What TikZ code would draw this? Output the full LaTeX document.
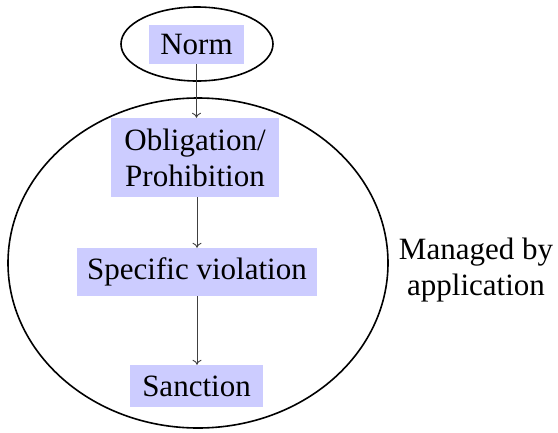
\documentclass[tikz,border=0pt]{standalone}
\usepackage{fontspec}
\setmainfont{Liberation Serif}
\usetikzlibrary{arrows.meta}
\begin{document}
\begin{tikzpicture}[x=1pt,y=-1pt,
  box/.style={fill=blue!20, inner sep=0pt, align=center, font=\fontsize{31}{36}\selectfont},
  conn/.style={draw=black!75, line width=0.9pt, -{To[length=5pt,width=9pt]}},
  ring/.style={draw=black, line width=1.6pt}]
\useasboundingbox (0,0) rectangle (558,432);
\draw[ring] (197,44) ellipse [x radius=76, y radius=37];
\draw[ring] (198,263) ellipse [x radius=190, y radius=165];
\node[box, minimum width=95pt, minimum height=39pt] (norm) at (196.5,44.5) {Norm};
\node[box, minimum width=168pt, minimum height=79pt] (obl) at (195,157.5) {Obligation/\\Prohibition};
\node[box, minimum width=240pt, minimum height=48pt] (spec) at (197,272) {Specific violation};
\node[box, minimum width=133pt, minimum height=42pt] (sanc) at (196.5,386) {Sanction};
\node[align=center, font=\fontsize{31}{36}\selectfont] (app) at (476,270) {Managed by\\application};
\draw[conn] (norm.south) -- (norm.south |- obl.north);
\draw[conn] (spec.north |- obl.south) -- (spec.north);
\draw[conn] (spec.south) -- (spec.south |- sanc.north);
\end{tikzpicture}
\end{document}
